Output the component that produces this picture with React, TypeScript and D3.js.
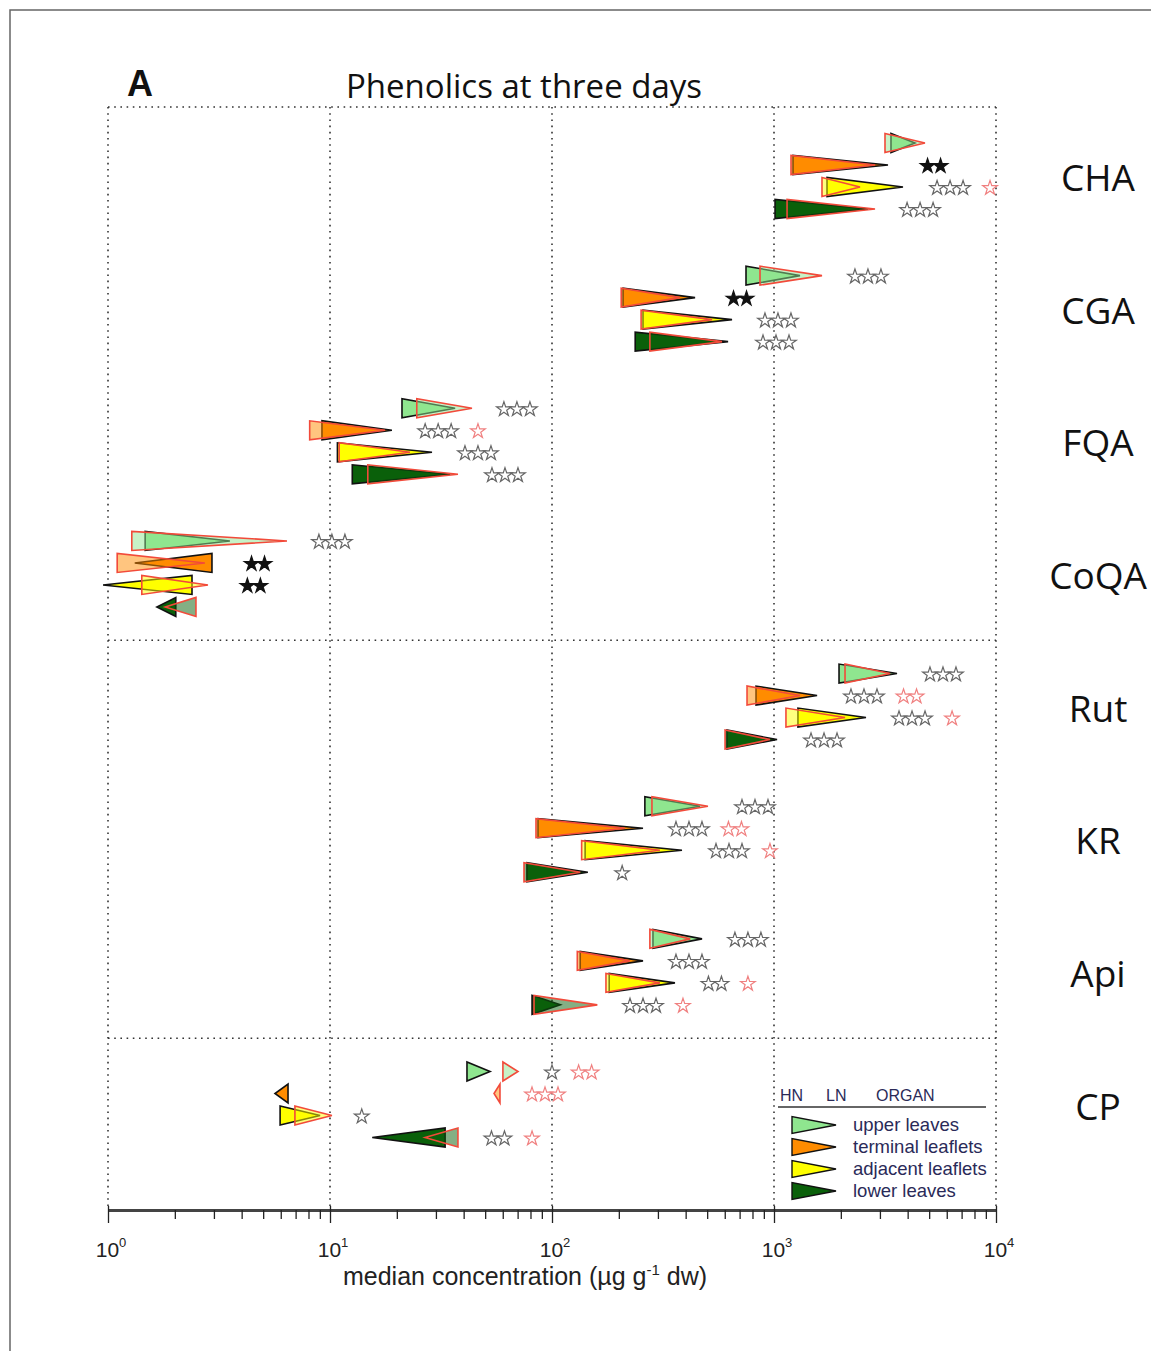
import * as React from 'react';
import * as d3 from 'd3';

// compounds (groups of rows) and organs (rows inside a group)
const compounds = ['CHA', 'CGA', 'FQA', 'CoQA', 'Rut', 'KR', 'Api', 'CP'];
const organs = ['upper leaves', 'terminal leaflets', 'adjacent leaflets', 'lower leaves'];
const organColors = ['#8fe68f', '#ff8c00', '#ffff00', '#0a600a'];

// HN: triangle base value -> tip value (median concentration, µg/g dw)
const hnStart = [
  [3365, 1218, 1733, 1011],
  [748, 209, 257, 237],
  [21.1, 9.2, 10.8, 12.6],
  [1.47, 2.94, 2.39, 2.02],
  [1963, 830, 1282, 614],
  [262, 86.5, 141, 77.1],
  [285, 134, 181, 81.3],
  [41.4, 6.47, 5.96, 33.0],
];
const hnEnd = [
  [4315, 3262, 3811, 2650],
  [1309, 441, 647, 621],
  [36.6, 19.0, 28.8, 34.7],
  [3.54, 1.32, 0.95, 1.66],
  [3581, 1563, 2596, 1032],
  [464, 257, 385, 145],
  [474, 257, 358, 109],
  [52.6, 5.65, 9.02, 15.5],
];
// LN
const lnStart = [
  [3162, 1193, 1645, 1145],
  [865, 205, 252, 276],
  [24.6, 8.1, 11.0, 14.8],
  [1.28, 1.10, 1.42, 2.49],
  [2089, 756, 1132, 602],
  [282, 84.7, 136, 74.8],
  [276, 130, 175, 83.0],
  [60.1, 58.3, 6.95, 37.7],
];
const lnEnd = [
  [4786, 2851, 2440, 2851],
  [1645, 377, 526, 583],
  [43.6, 17.7, 22.9, 37.7],
  [6.40, 2.73, 2.82, 1.81],
  [3333, 1309, 2089, 959],
  [504, 213, 306, 134],
  [419, 224, 306, 160],
  [70.3, 54.8, 10.2, 26.8],
];

// significance stars: compound, organ, count, where (concentration), kind
type Stars = { c: number; o: number; n: number; at: number; kind: 'hn' | 'ln' | 'both' };
const stars: Stars[] = [
  { c: 0, o: 1, n: 2, at: 5260, kind: 'both' },
  { c: 0, o: 2, n: 3, at: 6210, kind: 'hn' },
  { c: 0, o: 2, n: 1, at: 9400, kind: 'ln' },
  { c: 0, o: 3, n: 3, at: 4550, kind: 'hn' },
  { c: 1, o: 0, n: 3, at: 2650, kind: 'hn' },
  { c: 1, o: 1, n: 2, at: 703, kind: 'both' },
  { c: 1, o: 2, n: 3, at: 1042, kind: 'hn' },
  { c: 1, o: 3, n: 3, at: 1021, kind: 'hn' },
  { c: 2, o: 0, n: 3, at: 69.5, kind: 'hn' },
  { c: 2, o: 1, n: 3, at: 30.7, kind: 'hn' },
  { c: 2, o: 1, n: 1, at: 46.4, kind: 'ln' },
  { c: 2, o: 2, n: 3, at: 46.4, kind: 'hn' },
  { c: 2, o: 3, n: 3, at: 61.4, kind: 'hn' },
  { c: 3, o: 0, n: 3, at: 10.2, kind: 'hn' },
  { c: 3, o: 1, n: 2, at: 4.74, kind: 'both' },
  { c: 3, o: 2, n: 2, at: 4.54, kind: 'both' },
  { c: 4, o: 0, n: 3, at: 5770, kind: 'hn' },
  { c: 4, o: 1, n: 3, at: 2543, kind: 'hn' },
  { c: 4, o: 1, n: 2, at: 4100, kind: 'ln' },
  { c: 4, o: 2, n: 3, at: 4185, kind: 'hn' },
  { c: 4, o: 2, n: 1, at: 6340, kind: 'ln' },
  { c: 4, o: 3, n: 3, at: 1680, kind: 'hn' },
  { c: 5, o: 0, n: 3, at: 821, kind: 'hn' },
  { c: 5, o: 1, n: 3, at: 414, kind: 'hn' },
  { c: 5, o: 1, n: 2, at: 667, kind: 'ln' },
  { c: 5, o: 2, n: 3, at: 627, kind: 'hn' },
  { c: 5, o: 2, n: 1, at: 959, kind: 'ln' },
  { c: 5, o: 3, n: 1, at: 207, kind: 'hn' },
  { c: 6, o: 0, n: 3, at: 763, kind: 'hn' },
  { c: 6, o: 1, n: 3, at: 414, kind: 'hn' },
  { c: 6, o: 2, n: 2, at: 542, kind: 'hn' },
  { c: 6, o: 2, n: 1, at: 763, kind: 'ln' },
  { c: 6, o: 3, n: 3, at: 257, kind: 'hn' },
  { c: 6, o: 3, n: 1, at: 389, kind: 'ln' },
  { c: 7, o: 0, n: 1, at: 100, kind: 'hn' },
  { c: 7, o: 0, n: 2, at: 141, kind: 'ln' },
  { c: 7, o: 1, n: 3, at: 93, kind: 'ln' },
  { c: 7, o: 2, n: 1, at: 13.9, kind: 'hn' },
  { c: 7, o: 3, n: 2, at: 57.1, kind: 'hn' },
  { c: 7, o: 3, n: 1, at: 81.3, kind: 'ln' },
];

const decades = [1, 10, 100, 1000, 10000];

const W = 1151;
const H = 1351;
const left = 108;
const right = 996;
const top = 107;
const axisY = 1210;

const App: React.FC = () => {
  const svgRef = React.useRef<SVGSVGElement>(null);

  React.useEffect(() => {
    const svg = d3.select(svgRef.current);
    svg.selectAll('*').remove();

    const x = d3.scaleLog().domain([1, 10000]).range([left, right]);
    const groupY = d3.scalePoint<string>().domain(compounds).range([176, 1104.5]);
    const rowY = d3.scalePoint<string>().domain(organs).range([-33, 33]);
    const yOf = (c: number, o: number) => (groupY(compounds[c]) as number) + (rowY(organs[o]) as number);
    const half = 9.5;

    // outer frame (left and top visible)
    svg.append('path')
      .attr('d', `M10,${H + 5} L10,10 L${W + 5},10`)
      .attr('fill', 'none')
      .attr('stroke', '#666')
      .attr('stroke-width', 1.5);

    const grid = svg.append('g')
      .attr('stroke', '#333')
      .attr('stroke-width', 1.6)
      .attr('stroke-dasharray', '1.6,4.6')
      .attr('fill', 'none');

    decades.forEach((d) => {
      grid.append('line')
        .attr('x1', x(d)).attr('x2', x(d))
        .attr('y1', top).attr('y2', axisY);
    });

    const sep1 = (yOf(3, 3) + yOf(4, 0)) / 2;
    const sep2 = (yOf(6, 3) + yOf(7, 0)) / 2;
    [top, sep1, sep2].forEach((yy) => {
      grid.append('line')
        .attr('x1', left).attr('x2', right)
        .attr('y1', yy).attr('y2', yy);
    });

    const tri = (b: number, t: number, y: number) => {
      const xb = x(b), xt = x(t);
      return `M${xb},${y - half} L${xb},${y + half} L${xt},${y} Z`;
    };

    // triangles
    const marks = svg.append('g');
    compounds.forEach((_, c) => {
      organs.forEach((_, o) => {
        const y = yOf(c, o);
        marks.append('path')
          .attr('d', tri(hnStart[c][o], hnEnd[c][o], y))
          .attr('fill', organColors[o])
          .attr('stroke', '#111')
          .attr('stroke-width', 1.6)
          .attr('stroke-linejoin', 'miter');
        marks.append('path')
          .attr('d', tri(lnStart[c][o], lnEnd[c][o], y))
          .attr('fill', organColors[o])
          .attr('fill-opacity', 0.5)
          .attr('stroke', '#f24a3a')
          .attr('stroke-width', 1.6);
      });
    });

    // stars
    const starPath = d3.symbol().type(d3.symbolStar).size(66)() as string;
    const sg = svg.append('g');
    stars.forEach((s) => {
      const cx = x(s.at);
      const y = yOf(s.c, s.o) + 1;
      const step = 13;
      for (let i = 0; i < s.n; i++) {
        const px = cx + (i - (s.n - 1) / 2) * step;
        sg.append('path')
          .attr('d', starPath)
          .attr('transform', `translate(${px},${y})`)
          .attr('fill', s.kind === 'both' ? '#111' : '#fff')
          .attr('stroke', s.kind === 'ln' ? '#f08080' : s.kind === 'both' ? '#111' : '#666')
          .attr('stroke-width', 1.2);
      }
    });

    // compound labels
    svg.append('g')
      .selectAll('text')
      .data(compounds)
      .join('text')
      .attr('x', 1098)
      .attr('y', (d) => (groupY(d) as number) + 15)
      .attr('text-anchor', 'middle')
      .attr('font-family', 'Open Sans, sans-serif')
      .attr('font-size', 37)
      .attr('fill', '#111')
      .text((d) => d);

    // x axis
    const ax = svg.append('g')
      .attr('transform', `translate(0,${axisY})`)
      .call(d3.axisBottom(x).tickSize(9).tickFormat(() => '').tickSizeOuter(0));
    ax.select('.domain').attr('stroke', '#444').attr('stroke-width', 3);
    ax.selectAll('.tick line').attr('stroke', '#222').attr('stroke-width', 1.3);
    ax.selectAll<SVGGElement, number>('.tick')
      .filter((d) => decades.some((v) => Math.abs(v - d) < 1e-6))
      .select('line')
      .attr('y1', -4)
      .attr('y2', 13);

    const lab = svg.append('g')
      .attr('font-family', 'Liberation Sans, Arial, sans-serif')
      .attr('fill', '#222');
    decades.forEach((d, i) => {
      const t = lab.append('text')
        .attr('x', x(d) + 3)
        .attr('y', 1257)
        .attr('text-anchor', 'middle')
        .attr('font-size', 21);
      t.append('tspan').text('10');
      t.append('tspan').attr('font-size', 13).attr('dy', -10).text(String(i));
    });

    const title = lab.append('text')
      .attr('x', 525)
      .attr('y', 1285)
      .attr('text-anchor', 'middle')
      .attr('font-size', 25);
    title.append('tspan').text('median concentration (µg g');
    title.append('tspan').attr('font-size', 15).attr('dy', -10).text('-1');
    title.append('tspan').attr('dy', 10).text(' dw)');

    // titles
    svg.append('text')
      .attr('x', 140)
      .attr('y', 96)
      .attr('text-anchor', 'middle')
      .attr('font-family', 'Liberation Sans, Arial, sans-serif')
      .attr('font-weight', 'bold')
      .attr('font-size', 36)
      .attr('fill', '#111')
      .text('A');
    svg.append('text')
      .attr('x', 524)
      .attr('y', 98)
      .attr('text-anchor', 'middle')
      .attr('font-family', 'Open Sans, sans-serif')
      .attr('font-size', 33)
      .attr('fill', '#111')
      .text('Phenolics at three days');

    // legend
    const lg = svg.append('g');
    lg.append('rect')
      .attr('x', 778).attr('y', 1082)
      .attr('width', 215).attr('height', 123)
      .attr('fill', '#fff');
    const lgText = lg.append('g')
      .attr('font-family', 'Liberation Sans, Arial, sans-serif')
      .attr('fill', '#2a2a58');
    [['HN', 780], ['LN', 826], ['ORGAN', 876]].forEach(([t, xx]) => {
      lgText.append('text')
        .attr('x', xx as number).attr('y', 1101)
        .attr('font-size', 16)
        .text(t as string);
    });
    lg.append('line')
      .attr('x1', 778).attr('x2', 986)
      .attr('y1', 1107).attr('y2', 1107)
      .attr('stroke', '#666').attr('stroke-width', 2);
    organs.forEach((name, o) => {
      const y = 1158 + (rowY(name) as number);
      lg.append('path')
        .attr('d', `M792,${y - 8.5} L792,${y + 8.5} L836,${y} Z`)
        .attr('fill', organColors[o])
        .attr('stroke', '#111')
        .attr('stroke-width', 1.4);
      lgText.append('text')
        .attr('x', 853).attr('y', y + 6)
        .attr('font-size', 18.5)
        .attr('textLength', null)
        .text(name);
    });
  }, []);

  return (
    <svg
      ref={svgRef}
      width={W}
      height={H}
      style={{ position: 'absolute', left: 0, top: 0, background: '#fff' }}
    ></svg>
  );
};

export default App;
